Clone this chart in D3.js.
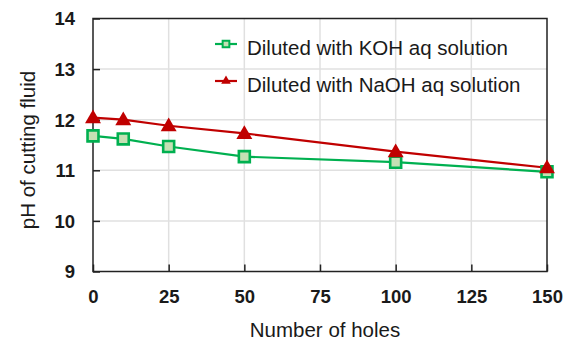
<!DOCTYPE html>
<html>
<head>
<meta charset="utf-8">
<script src="https://cdn.jsdelivr.net/npm/d3@7"></script>
<style>
  body { margin: 0; background: #fff; }
  svg { display: block; font-family: "Liberation Sans", Arial, sans-serif; }
</style>
</head>
<body>
<div id="chart"></div>
<script>
const holes = [0, 10, 25, 50, 100, 150]
const kohPH = [11.68, 11.62, 11.47, 11.27, 11.16, 10.97]
const naohPH = [12.04, 12.0, 11.88, 11.73, 11.37, 11.05]
const xTicks = [0, 25, 50, 75, 100, 125, 150]
const yTicks = [9, 10, 11, 12, 13, 14]
const seriesNames = ['Diluted with KOH aq solution', 'Diluted with NaOH aq solution']

const width = 571
const height = 340
const margin = {top: 18.5, right: 24, bottom: 68.5, left: 93}
const labelFont = '20.5px'
const tickFont = '18.5px'

const svg = d3.select('#chart').append('svg')
    .attr('width', width)
    .attr('height', height)

const x = d3.scaleLinear().domain([0, 150]).range([margin.left, width - margin.right])
const y = d3.scaleLinear().domain([9, 14]).range([height - margin.bottom, margin.top])

// gridlines
svg.append('g')
    .selectAll('line')
    .data(xTicks.slice(1, -1))
    .enter().append('line')
    .attr('x1', d => x(d)).attr('x2', d => x(d))
    .attr('y1', y(9)).attr('y2', y(14))
    .attr('stroke', '#e0e0e0').attr('stroke-width', 1.5)
svg.append('g')
    .selectAll('line')
    .data(yTicks.slice(1, -1))
    .enter().append('line')
    .attr('x1', x(0)).attr('x2', x(150))
    .attr('y1', d => y(d)).attr('y2', d => y(d))
    .attr('stroke', '#e0e0e0').attr('stroke-width', 1.5)

// axes, ticks pointing inward
const xAxis = svg.append('g')
    .attr('transform', `translate(0, ${y(9)})`)
    .call(d3.axisBottom(x).tickValues(xTicks).tickFormat(d3.format('d'))
        .tickSizeInner(-7).tickSizeOuter(0).tickPadding(18.5))
const yAxis = svg.append('g')
    .attr('transform', `translate(${x(0)}, 0)`)
    .call(d3.axisLeft(y).tickValues(yTicks).tickFormat(d3.format('d'))
        .tickSizeInner(-7).tickSizeOuter(0).tickPadding(18))

for (const ax of [xAxis, yAxis]) {
    ax.select('.domain').remove()
    ax.selectAll('.tick line').attr('stroke', '#222').attr('stroke-width', 1.5)
    ax.selectAll('.tick text')
        .attr('fill', '#1a1a1a')
        .style('font-size', tickFont)
        .style('font-weight', 'bold')
        .style('font-family', '"Liberation Sans", Arial, sans-serif')
}
yAxis.selectAll('.tick text').attr('dy', '0.35em')

// frame
svg.append('rect')
    .attr('x', x(0)).attr('y', y(14))
    .attr('width', x(150) - x(0)).attr('height', y(9) - y(14))
    .attr('fill', 'none').attr('stroke', '#222').attr('stroke-width', 1.5)

const line = d3.line().x(d => x(d[0])).y(d => y(d[1]))
const kohData = holes.map((h, i) => [h, kohPH[i]])
const naohData = holes.map((h, i) => [h, naohPH[i]])

const green = '#00b050'
const greenFill = '#c5e0b4'
const red = '#c00000'

svg.append('path').datum(kohData)
    .attr('d', line).attr('fill', 'none').attr('stroke', green).attr('stroke-width', 2.2)
svg.append('path').datum(naohData)
    .attr('d', line).attr('fill', 'none').attr('stroke', red).attr('stroke-width', 2.2)

const square = d3.symbol().type(d3.symbolSquare)
const triangle = d3.symbol().type(d3.symbolTriangle)

svg.append('g').selectAll('path')
    .data(kohData)
    .enter().append('path')
    .attr('d', square.size(120))
    .attr('transform', d => `translate(${x(d[0])}, ${y(d[1])})`)
    .attr('fill', greenFill).attr('stroke', green).attr('stroke-width', 2.6)

svg.append('g').selectAll('path')
    .data(naohData)
    .enter().append('path')
    .attr('d', triangle.size(110))
    .attr('transform', d => `translate(${x(d[0])}, ${y(d[1]) + 1})`)
    .attr('fill', red)

// legend
const legend = svg.append('g')
const legendRows = [
    {name: seriesNames[0], color: green, y: 44},
    {name: seriesNames[1], color: red, y: 81}
]
legendRows.forEach((r, i) => {
    legend.append('line')
        .attr('x1', 215).attr('x2', 237)
        .attr('y1', r.y).attr('y2', r.y)
        .attr('stroke', r.color).attr('stroke-width', 2.2)
    if (i === 0) {
        legend.append('path')
            .attr('d', square.size(45))
            .attr('transform', `translate(226, ${r.y})`)
            .attr('fill', greenFill).attr('stroke', green).attr('stroke-width', 2)
    } else {
        legend.append('path')
            .attr('d', triangle.size(40))
            .attr('transform', `translate(226, ${r.y})`)
            .attr('fill', red)
    }
    legend.append('text')
        .attr('x', 247).attr('y', r.y + 3.5)
        .attr('dy', '0.35em')
        .attr('fill', '#1a1a1a')
        .style('font-size', labelFont)
        .text(r.name)
})

// axis titles
svg.append('text')
    .attr('x', (x(0) + x(150)) / 2 + 5).attr('y', 330)
    .attr('dy', '0.35em')
    .attr('text-anchor', 'middle')
    .attr('fill', '#1a1a1a')
    .style('font-size', labelFont)
    .text('Number of holes')

svg.append('text')
    .attr('transform', `translate(27.5, ${(y(9) + y(14)) / 2 + 5}) rotate(-90)`)
    .attr('dy', '0.35em')
    .attr('text-anchor', 'middle')
    .attr('fill', '#1a1a1a')
    .style('font-size', labelFont)
    .text('pH of cutting fluid')
</script>
</body>
</html>
